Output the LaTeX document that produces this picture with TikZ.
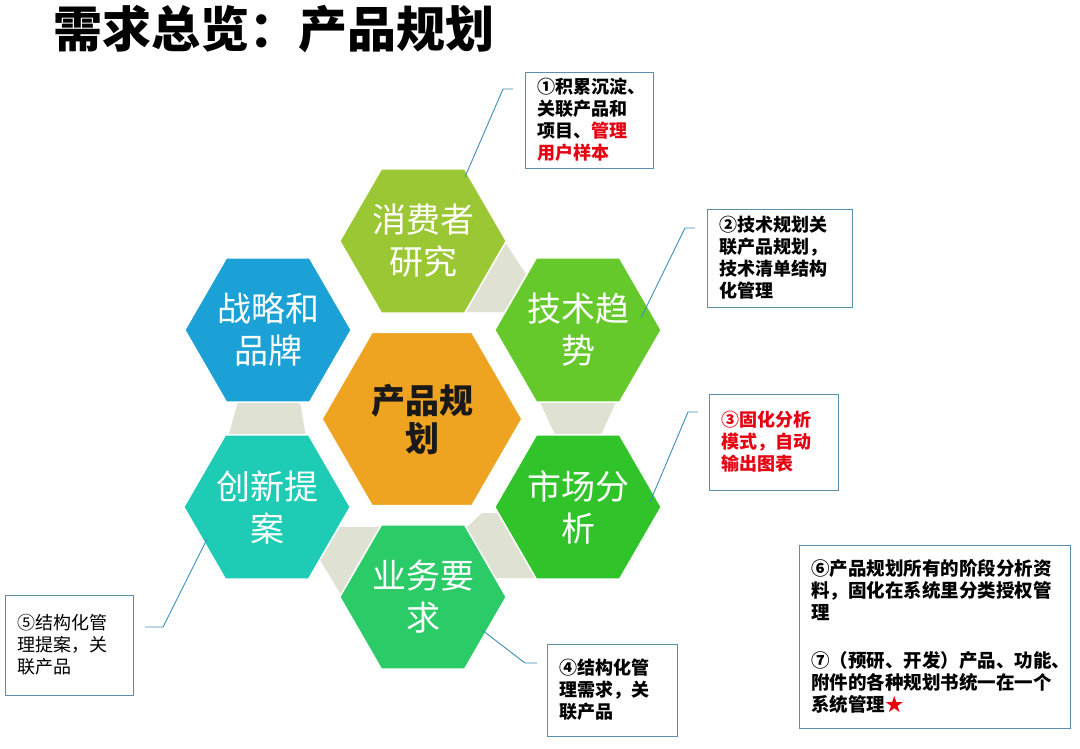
\documentclass[tikz,border=0pt]{standalone}
\usepackage{fontspec}
\newfontfamily\cjk{Noto Sans CJK SC}
\newfontfamily\cjkblack{Noto Sans CJK SC Black}
\usetikzlibrary{shapes.geometric}
\definecolor{cConsumer}{HTML}{9CC734}
\definecolor{cStrategy}{HTML}{1BA1D6}
\definecolor{cTech}{HTML}{66C92B}
\definecolor{cMarket}{HTML}{30C42A}
\definecolor{cBusiness}{HTML}{2BCB68}
\definecolor{cInnov}{HTML}{1ECBB5}
\definecolor{cCenter}{HTML}{EEA321}
\definecolor{cGap}{HTML}{DFE1D3}
\definecolor{boxline}{HTML}{5A8FB0}
\definecolor{leadline}{HTML}{3F8FB8}
\definecolor{hred}{HTML}{E60012}
\begin{document}
\begin{tikzpicture}[x=1pt,y=-1pt,
  hexnode/.style={shape=regular polygon, regular polygon sides=6, inner sep=0pt,
    minimum size=164pt, draw=white, line width=1.5pt, text=white, align=center,
    font=\cjk\fontsize{34}{42}\selectfont},
  gap/.style={fill=cGap},
  leader/.style={draw=leadline, line width=0.9pt},
  callout/.style={draw=boxline, line width=1pt, fill=white, inner xsep=12pt,
    inner ysep=0pt, align=left, text=black,
    font=\cjk\bfseries\fontsize{18}{22}\selectfont}]
\useasboundingbox (0,0) rectangle (1080,748);
\fill[white] (0,0) rectangle (1080,748);

% title
\node[anchor=west, inner sep=0pt, font=\cjkblack\fontsize{49}{49}\selectfont] (title) at (53,29) {需求总览：产品规划};

% gap pieces
\fill[gap] (505,242) -- (526,274) -- (505,312) -- (464,312) -- cycle;
\fill[gap] (238,402) -- (300,402) -- (306,437) -- (228,437) -- cycle;
\fill[gap] (540,402) -- (616,402) -- (600,437) -- (556,437) -- cycle;
\fill[gap] (330,527) -- (384,527) -- (343,598) -- (320,560) -- cycle;
\fill[gap] (482,513) -- (500,513) -- (537,578) -- (494,578) -- (466,528) -- cycle;

% hexagons
\node[hexnode, fill=cConsumer] (consumer) at (423,241) {消费者\\研究};
\node[hexnode, fill=cStrategy] (strategy) at (268,330) {战略和\\品牌};
\node[hexnode, fill=cTech] (tech) at (578,330) {技术趋\\势};
\node[hexnode, fill=cInnov] (innov) at (267,507) {创新提\\案};
\node[hexnode, fill=cMarket] (market) at (578,507) {市场分\\析};
\node[hexnode, fill=cBusiness] (business) at (423,597) {业务要\\求};
\node[hexnode, fill=cCenter, minimum size=200pt, text=black!90,
  font=\cjk\bfseries\fontsize{34}{38}\selectfont] (center) at (422,419) {产品规\\划};

% callout boxes
\node[callout, text width=104pt, minimum height=96pt] (b1) at (589,120)
  {①积累沉淀、\\关联产品和\\项目、\textcolor{hred}{管理}\\\textcolor{hred}{用户样本}};
\node[callout, text width=121pt, minimum height=98pt] (b2) at (779.5,258)
  {②技术规划关\\联产品规划，\\技术清单结构\\化管理};
\node[callout, text width=105pt, minimum height=96pt, text=hred] (b3) at (773.5,442)
  {③固化分析\\模式，自动\\输出图表};
\node[callout, text width=106pt, minimum height=92pt] (b4) at (612,690)
  {④结构化管\\理需求，关\\联产品};
\node[callout, text width=104pt, minimum height=100pt,
  font=\cjk\fontsize{18}{22}\selectfont] (b5) at (69,645)
  {⑤结构化管\\理提案，关\\联产品};
\node[callout, text width=247pt, minimum height=183pt,
  font=\cjk\bfseries\fontsize{18.5}{22}\selectfont] (b6) at (934.5,636.5)
  {⑥产品规划所有的阶段分析资\\料，固化在系统里分类授权管\\理\\[26pt]⑦（预研、开发）产品、功能、\\附件的各种规划书统一在一个\\系统管理\textcolor{hred}{★}};

% leader lines
\coordinate (l1a) at (465,177); \coordinate (l1b) at (503,89); \coordinate (l1c) at (513,89);
\coordinate (l2a) at (641,318); \coordinate (l2b) at (685,228); \coordinate (l2c) at (695,228);
\coordinate (l3a) at (650,502); \coordinate (l3b) at (688,412); \coordinate (l3c) at (698,412);
\coordinate (l4a) at (482,630); \coordinate (l4b) at (525,663); \coordinate (l4c) at (537,663);
\coordinate (l5a) at (207,539); \coordinate (l5b) at (163,627); \coordinate (l5c) at (145,627);
\draw[leader] (l1a) -- (l1b) -- (l1c);
\draw[leader] (l2a) -- (l2b) -- (l2c);
\draw[leader] (l3a) -- (l3b) -- (l3c);
\draw[leader] (l4a) -- (l4b) -- (l4c);
\draw[leader] (l5a) -- (l5b) -- (l5c);
\end{tikzpicture}
\end{document}
